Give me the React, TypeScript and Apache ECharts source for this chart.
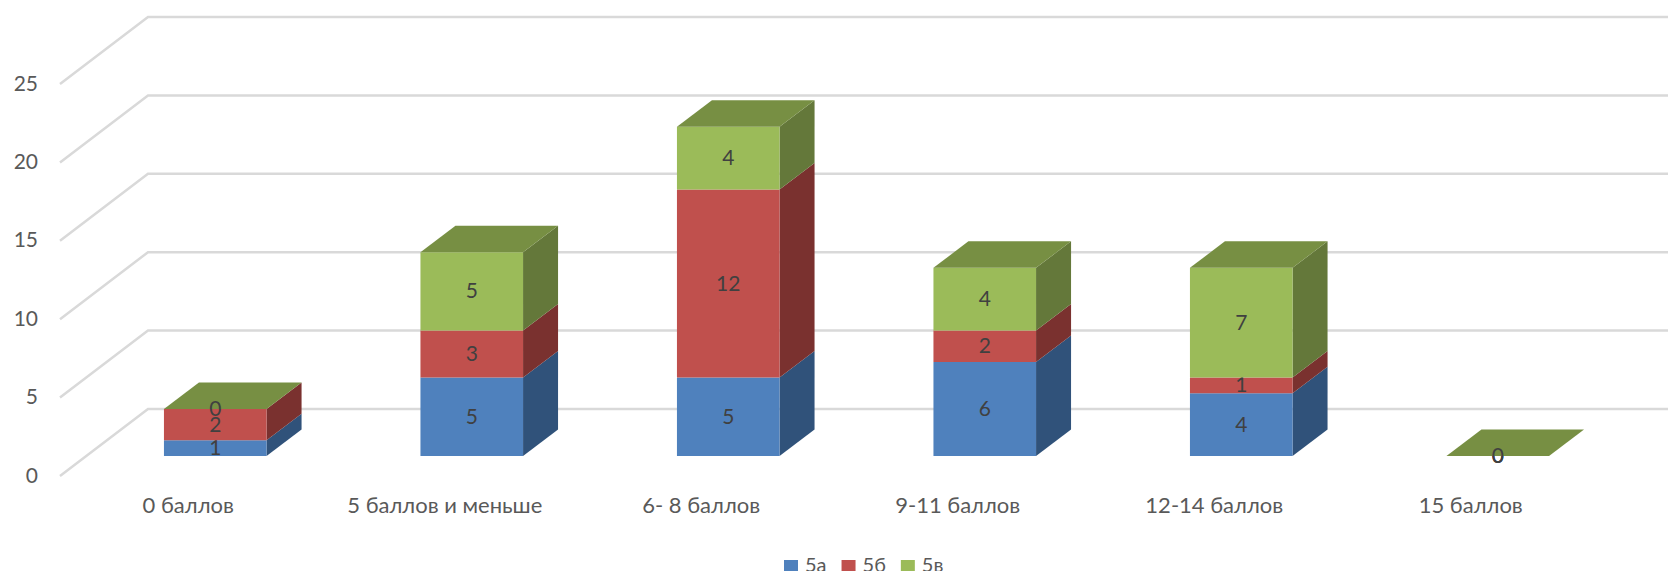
import React, { useEffect, useRef } from "react";
import * as echarts from "echarts";

const categories = ["0 баллов", "5 баллов и меньше", "6- 8 баллов", "9-11 баллов", "12-14 баллов", "15 баллов"];
const valuesA = [1, 5, 5, 6, 4, 0];
const valuesB = [2, 3, 12, 2, 1, 0];
const valuesC = [0, 5, 4, 4, 7, 0];
const yTicks = [0, 5, 10, 15, 20, 25];
const seriesNames = ["5а", "5б", "5в"];
const frontColors = ["#4F81BD", "#C0504D", "#9BBB59"];
const sideColors = ["#30527A", "#7A312F", "#64783A"];
const topColor = "#778F43";

const FONT = "Lato, 'Open Sans', sans-serif";
const WALL_DX = 88;
const WALL_DY = 67;
const BAR_DX = 27;
const BAR_DY = 20;
const DEPTH_DX = 35;
const DEPTH_DY = 26.5;
const BAR_RATIO = 0.4;
const LABEL_LIFT = 1.5;

function stacked(all: number[][], s: number) {
  return all[s].map((v, i) => {
    let start = 0;
    for (let k = 0; k < s; k++) start += all[k][i];
    return [i, start, start + v, v];
  });
}

function barSeries(all: number[][], s: number) {
  const isLast = s === all.length - 1;
  return {
    type: "custom",
    name: seriesNames[s],
    coordinateSystem: "cartesian2d",
    itemStyle: { color: frontColors[s] },
    encode: { x: 0, y: [1, 2] },
    data: stacked(all, s),
    z: 3 + s,
    silent: true,
    renderItem: (_p: any, api: any) => {
      const i = api.value(0);
      const low = api.coord([i, api.value(1)]);
      const high = api.coord([i, api.value(2)]);
      const band = api.size([1, 0])[0];
      const w = band * BAR_RATIO;
      const xl = low[0] + BAR_DX - w / 2;
      const xr = xl + w;
      const yb = low[1] - BAR_DY;
      const yt = high[1] - BAR_DY;
      const children: any[] = [];
      if (yb - yt > 0) {
        children.push({
          type: "polygon",
          shape: { points: [[xr, yb], [xr, yt], [xr + DEPTH_DX, yt - DEPTH_DY], [xr + DEPTH_DX, yb - DEPTH_DY]] },
          style: { fill: sideColors[s] },
        });
        children.push({
          type: "rect",
          shape: { x: xl, y: yt, width: w, height: yb - yt },
          style: { fill: frontColors[s] },
        });
      }
      if (isLast) {
        children.push({
          type: "polygon",
          shape: { points: [[xl, yt], [xr, yt], [xr + DEPTH_DX, yt - DEPTH_DY], [xl + DEPTH_DX, yt - DEPTH_DY]] },
          style: { fill: topColor },
        });
      }
      children.push({
        type: "text",
        z2: 50,
        style: {
          x: (xl + xr) / 2,
          y: (yt + yb) / 2 - LABEL_LIFT,
          text: String(api.value(3)),
          fill: "#404040",
          font: `21px ${FONT}`,
          align: "center",
          verticalAlign: "middle",
        },
      });
      return { type: "group", children };
    },
  };
}

export default function App() {
  const ref = useRef<HTMLDivElement>(null);
  useEffect(() => {
    document.body.style.margin = "0";
    const chart = echarts.init(ref.current!, undefined, { renderer: "svg" });
    const all = [valuesA, valuesB, valuesC];
    chart.setOption({
      animation: false,
      backgroundColor: "#fff",
      textStyle: { fontFamily: FONT },
      grid: { left: 60, width: 1539, top: 84, height: 392, containLabel: false },
      legend: {
        data: seriesNames,
        left: 784,
        top: 553.5,
        padding: 0,
        itemWidth: 14,
        itemHeight: 14,
        itemGap: 15,
        icon: "rect",
        formatter: "{a|{name}}",
        textStyle: {
          rich: {
            a: { color: "#595959", fontSize: 20, lineHeight: 14, fontFamily: FONT, padding: [0, 0, 7, 2] },
          },
        },
      },
      xAxis: {
        type: "category",
        data: categories,
        axisLine: { show: false },
        axisTick: { show: false },
        splitLine: { show: false },
        axisLabel: { interval: 0, margin: 17, color: "#595959", fontSize: 22, fontFamily: FONT },
      },
      yAxis: {
        type: "value",
        min: 0,
        max: 25,
        interval: 5,
        axisLine: { show: false },
        axisTick: { show: false },
        splitLine: { show: false },
        axisLabel: {
          margin: 22,
          formatter: "{a|{value}}",
          rich: { a: { color: "#595959", fontSize: 21, fontFamily: FONT, padding: [0, 0, 4, 0] } },
        },
      },
      series: [
        {
          type: "custom",
          name: "grid",
          coordinateSystem: "cartesian2d",
          silent: true,
          z: 1,
          encode: { x: 0, y: 1 },
          data: yTicks.map((v) => [0, v]),
          renderItem: (_p: any, api: any) => {
            const c = api.coord([0, api.value(1)]);
            const band = api.size([1, 0])[0];
            const left = c[0] - band / 2;
            const right = left + band * categories.length;
            return {
              type: "polyline",
              shape: {
                points: [
                  [left, c[1]],
                  [left + WALL_DX, c[1] - WALL_DY],
                  [right + WALL_DX, c[1] - WALL_DY],
                ],
              },
              style: { stroke: "#D9D9D9", lineWidth: 2.5, fill: "none" },
            };
          },
        },
        ...seriesNames.map((_n, s) => barSeries(all, s)),
      ],
    });
    return () => chart.dispose();
  }, []);
  return <div ref={ref} style={{ width: 1668, height: 571 }} />;
}
